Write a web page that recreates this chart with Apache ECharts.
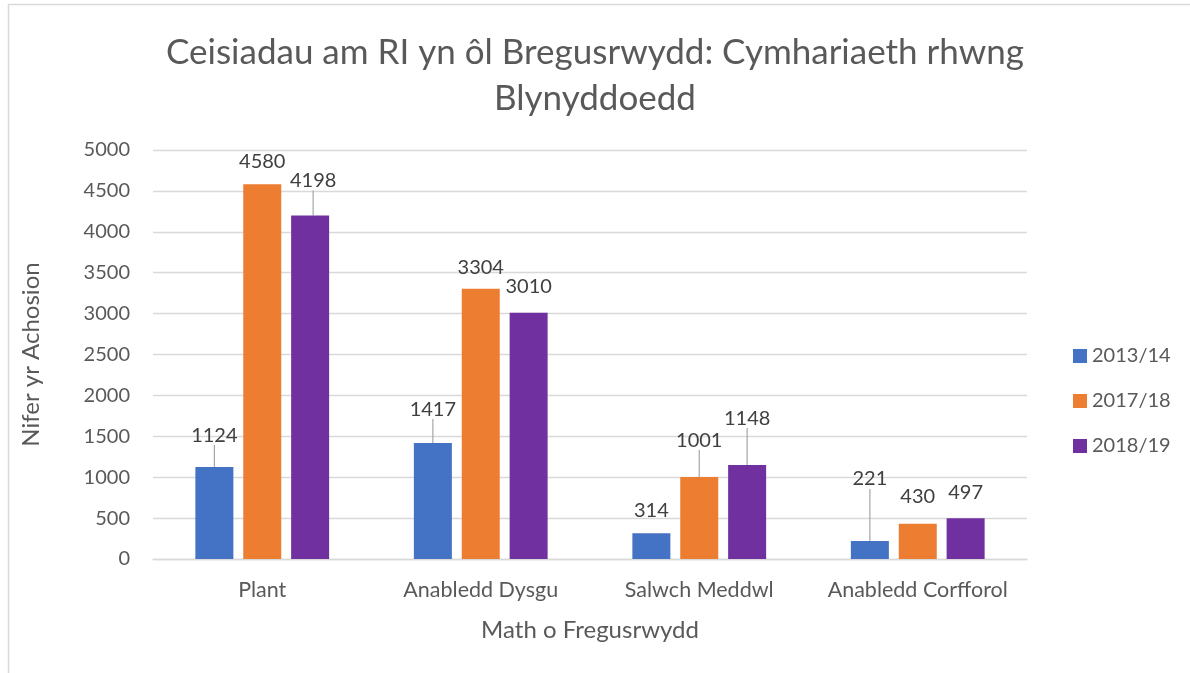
<!DOCTYPE html>
<html>
<head>
    <meta charset="utf-8">
    <title>Ceisiadau am RI yn ôl Bregusrwydd</title>
    <script src="https://cdn.jsdelivr.net/npm/echarts@6/dist/echarts.min.js"></script>
    <style>
        html, body { margin: 0; padding: 0; background: #fff; }
        #chartContainer { width: 1190px; height: 673px; }
    </style>
</head>
<body>
    <div id="chartContainer"></div>

    <script>
        // categories and series
        const categories = ['Plant', 'Anabledd Dysgu', 'Salwch Meddwl', 'Anabledd Corfforol'];
        const seriesNames = ['2013/14', '2017/18', '2018/19'];
        const values2013 = [1124, 1417, 314, 221];
        const values2017 = [4580, 3304, 1001, 430];
        const values2018 = [4198, 3010, 1148, 497];
        const yTicks = [0, 500, 1000, 1500, 2000, 2500, 3000, 3500, 4000, 4500, 5000];

        // colours and hand-moved label offsets (Excel style)
        const colors = ['#4472C4', '#ED7D31', '#7030A0'];
        const labelShift = [
            [[0, -17], [0, -19], [0, -8], [0, -47]],
            [[0, -8], [0, -6], [0, -22], [0, -12]],
            [[3, -20], [0, -11], [0, -32], [0, -11]]
        ];
        const showLeader = [
            [true, true, false, true],
            [false, false, true, false],
            [true, false, true, false]
        ];

        const font = 'Lato, "Open Sans", sans-serif';
        const textColor = '#595959';

        const chart = echarts.init(document.getElementById('chartContainer'));

        const allValues = [values2013, values2017, values2018];
        const series = allValues.map((vals, si) => ({
            name: seriesNames[si],
            type: 'bar',
            barWidth: 38,
            barGap: '26%',
            itemStyle: { color: colors[si] },
            data: vals.map((v, di) => ({
                value: v,
                labelLine: { show: showLeader[si][di] }
            })),
            label: {
                show: true,
                position: 'top',
                distance: 5,
                color: '#404040',
                fontFamily: font,
                fontSize: 20
            },
            labelLine: {
                show: false,
                lineStyle: { color: '#A6A6A6', width: 1.2 }
            },
            labelLayout: p => ({
                dx: labelShift[p.seriesIndex][p.dataIndex][0],
                dy: labelShift[p.seriesIndex][p.dataIndex][1]
            })
        }));

        const option = {
            backgroundColor: '#fff',
            animation: false,
            title: {
                text: 'Ceisiadau am RI yn ôl Bregusrwydd: Cymhariaeth rhwng\nBlynyddoedd',
                left: 'center',
                top: 25,
                textStyle: {
                    fontFamily: font,
                    fontWeight: 'normal',
                    fontSize: 35,
                    lineHeight: 46,
                    color: textColor
                }
            },
            legend: {
                orient: 'vertical',
                left: 1068,
                top: 341,
                itemWidth: 14,
                itemHeight: 14,
                itemGap: 25,
                icon: 'rect',
                data: seriesNames,
                textStyle: { fontFamily: font, fontSize: 20, color: textColor }
            },
            grid: { left: 153, right: 163, top: 150, bottom: 114 },
            xAxis: {
                type: 'category',
                data: categories,
                name: 'Math o Fregusrwydd',
                nameLocation: 'middle',
                nameGap: 59,
                nameTextStyle: { fontFamily: font, fontSize: 24, color: textColor },
                axisLine: { lineStyle: { color: '#D9D9D9', width: 1.3 } },
                axisTick: { show: false },
                axisLabel: { interval: 0, margin: 20, fontFamily: font, fontSize: 21.5, color: textColor }
            },
            yAxis: {
                type: 'value',
                min: yTicks[0],
                max: yTicks[yTicks.length - 1],
                interval: yTicks[1] - yTicks[0],
                name: 'Nifer yr Achosion',
                nameLocation: 'middle',
                nameGap: 110,
                nameTextStyle: { fontFamily: font, fontSize: 24, color: textColor },
                axisLine: { show: false },
                axisTick: { show: false },
                axisLabel: {
                    margin: 23,
                    fontFamily: font,
                    fontSize: 20,
                    color: textColor,
                    formatter: v => String(v)
                },
                splitLine: { lineStyle: { color: '#D9D9D9', width: 1.3 } }
            },
            graphic: [{
                type: 'rect',
                shape: { x: 8.5, y: 4.5, width: 1200, height: 700 },
                style: { fill: 'none', stroke: '#D9D9D9', lineWidth: 1.5 },
                silent: true,
                z: -1
            }],
            series: series
        };

        chart.setOption(option);
        window.addEventListener('resize', () => chart.resize());
    </script>
</body>
</html>
